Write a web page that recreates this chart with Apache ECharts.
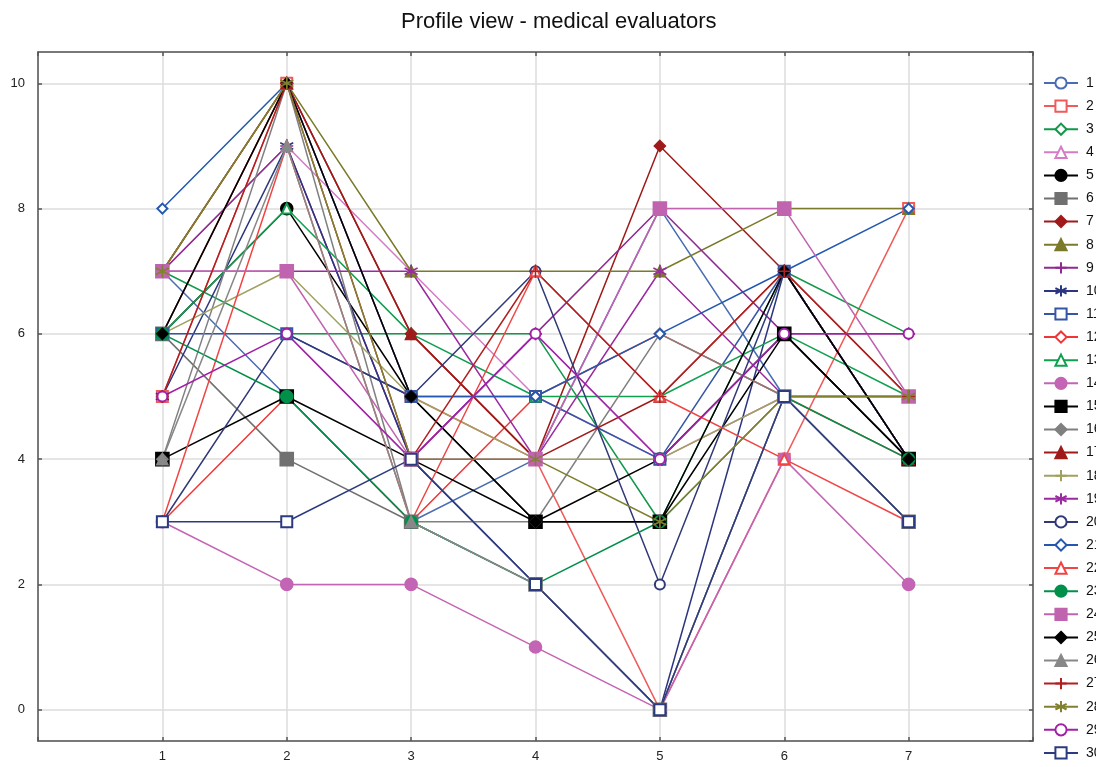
<!DOCTYPE html>
<html><head><meta charset="utf-8">
<script src="https://cdn.jsdelivr.net/npm/echarts@6/dist/echarts.min.js"></script>
<style>html,body{margin:0;padding:0;background:#fff}#c{width:1096px;height:767px}</style>
</head><body><div id="c"></div>
<script>
// ---- data ----
const categories = [1, 2, 3, 4, 5, 6, 7];
const yTicks = [0, 2, 4, 6, 8, 10];
const evaluatorNames = ['1','2','3','4','5','6','7','8','9','10','11','12','13','14','15','16','17','18','19','20','21','22','23','24','25','26','27','28','29','30'];
const e01 = [7, 5, 3, 4, 8, 5, 3];
const e02 = [5, 10, 5, 4, 0, 4, 8];
const e03 = [7, 6, 6, 6, 3, 7, 6];
const e04 = [7, 9, 7, 5, 4, 5, 5];
const e05 = [6, 8, 5, 3, 4, 6, 4];
const e06 = [6, 4, 3, 2, 0, 5, 3];
const e07 = [6, 10, 6, 4, 9, 7, 5];
const e08 = [7, 10, 7, 7, 7, 8, 8];
const e09 = [7, 9, 4, 6, 8, 6, 6];
const e10 = [5, 9, 4, 2, 0, 7, 4];
const e11 = [6, 6, 5, 5, 4, 7, 4];
const e12 = [3, 5, 3, 5, 6, 5, 4];
const e13 = [6, 8, 6, 5, 5, 6, 5];
const e14 = [3, 2, 2, 1, 0, 4, 2];
const e15 = [4, 5, 4, 3, 3, 6, 4];
const e16 = [4, 10, 3, 3, 6, 5, 5];
const e17 = [7, 10, 6, 4, 5, 7, 4];
const e18 = [6, 7, 5, 4, 4, 5, 5];
const e19 = [7, 7, 7, 4, 7, 5, 5];
const e20 = [3, 6, 5, 7, 2, 7, 4];
const e21 = [8, 10, 5, 5, 6, 7, 8];
const e22 = [3, 9, 3, 7, 5, 4, 3];
const e23 = [6, 5, 3, 2, 3, 5, 4];
const e24 = [7, 7, 4, 4, 8, 8, 5];
const e25 = [6, 10, 5, 3, 3, 7, 4];
const e26 = [4, 9, 3, 2, 0, 5, 3];
const e27 = [5, 10, 4, 7, 5, 7, 5];
const e28 = [7, 10, 4, 4, 3, 5, 5];
const e29 = [5, 6, 4, 6, 4, 6, 6];
const e30 = [3, 3, 4, 2, 0, 5, 3];
const profiles = [e01,e02,e03,e04,e05,e06,e07,e08,e09,e10,e11,e12,e13,e14,e15,e16,e17,e18,e19,e20,e21,e22,e23,e24,e25,e26,e27,e28,e29,e30];

// ---- styles ----
const colors = ['#4a6cb3','#f05a5a','#12984a','#d47cc6','#000000','#707070','#a01a1a','#7a7a2a','#8f2a8f','#2c3580',
                '#3555a5','#f03535','#10a050','#c464b4','#000000','#808080','#a01a1a','#a0a060','#9a2aa0','#303878',
                '#2458b0','#f04545','#00904a','#c064b0','#000000','#888888','#b02020','#808030','#a020a8','#2c3a80'];
const PLUS = 'path://M5,0L5,10M0,5L10,5';
const AST = 'path://M5,0L5,10M0.67,2.5L9.33,7.5M0.67,7.5L9.33,2.5';
const symbols = ['emptyCircle','emptyRect','emptyDiamond','emptyTriangle','circle','rect','diamond','triangle',PLUS,AST,
                 'emptyRect','emptyDiamond','emptyTriangle','circle','rect','diamond','triangle',PLUS,AST,'emptyCircle',
                 'emptyDiamond','emptyTriangle','circle','rect','diamond','triangle',PLUS,AST,'emptyCircle','emptyRect'];
const sizes = {emptyCircle:10, emptyRect:11, emptyDiamond:10, emptyTriangle:10, circle:12, rect:13, diamond:11, triangle:11};

const series = profiles.map((vals, i) => {
  const sym = symbols[i];
  const size = sizes[sym] || 13;
  return {
    name: evaluatorNames[i],
    type: 'line',
    data: vals.map((v, k) => [categories[k], v]),
    symbol: sym,
    symbolSize: size,
    showAllSymbol: true,
    lineStyle: { color: colors[i], width: 1.5 },
    itemStyle: { color: colors[i], borderColor: colors[i], borderWidth: 1.6 },
    emphasis: { disabled: true },
    animation: false
  };
});

const frame = { show: true, onZero: false, lineStyle: { color: '#555', width: 1.5 } };
const labelFont = { fontFamily: 'Liberation Sans, Arial, sans-serif', fontSize: 13, color: '#222' };
const tick = { show: true, inside: true, length: 4, lineStyle: { color: '#555', width: 1.5 } };

const chart = echarts.init(document.getElementById('c'), null, { renderer: 'canvas' });
chart.setOption({
  animation: false,
  backgroundColor: '#fff',
  title: {
    text: 'Profile view - medical evaluators',
    left: 396, top: 6,
    textStyle: { fontFamily: 'Liberation Sans, Arial, sans-serif', fontSize: 22, fontWeight: 'normal', color: '#111' }
  },
  grid: { left: 38, right: 63, top: 52, bottom: 26, containLabel: false },
  legend: {
    orient: 'vertical', left: 1043, top: 76, padding: 0,
    itemWidth: 34, itemHeight: 14, itemGap: 9.1,
    data: evaluatorNames,
    textStyle: { fontFamily: 'Liberation Sans, Arial, sans-serif', fontSize: 14, color: '#111', lineHeight: 14, padding: [0,0,0,3] }
  },
  xAxis: [{
    type: 'value', min: 0, max: 8, interval: 1, position: 'bottom',
    axisLine: frame, axisTick: tick,
    axisLabel: Object.assign({ margin: 9, formatter: v => (v >= 1 && v <= 7 ? String(v) : '') }, labelFont),
    splitLine: { show: true, lineStyle: { color: '#dcdcdc', width: 1.5 } }
  }, {
    type: 'value', min: 0, max: 8, interval: 1, position: 'top',
    axisLine: frame, axisTick: tick,
    axisLabel: { show: false },
    splitLine: { show: false }
  }],
  yAxis: [{
    type: 'value', min: -0.5, max: 10.5, splitNumber: 5, position: 'left',
    axisLine: frame, axisTick: tick,
    axisLabel: Object.assign({ margin: 13, showMinLabel: false, showMaxLabel: false,
      formatter: v => (yTicks.indexOf(v) >= 0 ? String(v) : '') }, labelFont),
    splitLine: { show: true, lineStyle: { color: '#dcdcdc', width: 1.5 } }
  }, {
    type: 'value', min: -0.5, max: 10.5, splitNumber: 5, position: 'right',
    axisLine: frame, axisTick: tick,
    axisLabel: { show: false },
    splitLine: { show: false }
  }],
  series: series
});
</script>
</body></html>
